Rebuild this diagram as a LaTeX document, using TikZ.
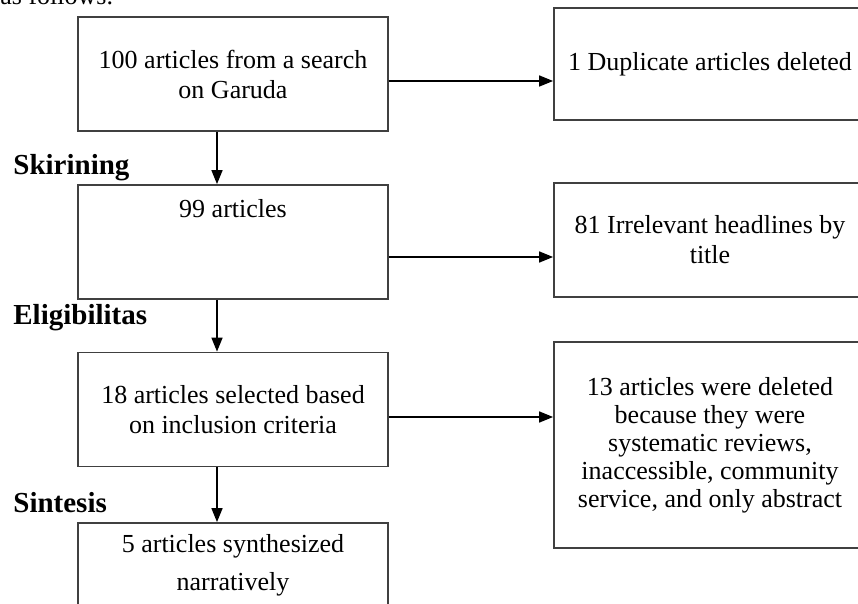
\documentclass[tikz,border=0pt]{standalone}
\usepackage{fontspec}
\setmainfont{Liberation Serif}
\usetikzlibrary{arrows.meta}

\begin{document}
\begin{tikzpicture}[x=0.5pt, y=-0.5pt, every node/.style={font=\fontsize{13}{15}\selectfont},
    box/.style={draw=black!75, line width=0.9pt, minimum width=155pt, minimum height=57pt, align=center, inner sep=0pt},
    stage/.style={anchor=base west, inner sep=0pt, font=\fontsize{14.5}{16}\selectfont\bfseries},
    flow/.style={-{Triangle[length=7pt,width=5.5pt]}, line width=0.8pt}]

    % Frame of the cut-out
    \useasboundingbox (0,0) rectangle (858,604);
    \clip (0,0) rectangle (858,604);

    % Text cut off above the chart
    \node[anchor=base west, inner sep=0pt] (intro) at (0,5) {as follows.};

    % Main column
    \node[box] (search) at (233,74) {100 articles from a search\\on Garuda};
    \node[box, label={[anchor=north, inner sep=0pt, yshift=-7.5pt]north:99 articles}] (screen) at (233,242) {};
    \node[box] (eligible) at (233,409.5) {18 articles selected based\\on inclusion criteria};
    \node[box, label={[anchor=north, inner sep=0pt, yshift=-6pt, align=center, font=\fontsize{13}{19}\selectfont]north:5 articles synthesized\\narratively}] (synth) at (233,580) {};

    % Excluded records
    \node[box, minimum width=156pt, minimum height=56pt] (dup) at (710,64) {1 Duplicate articles deleted};
    \node[box, minimum width=156pt] (irrelevant) at (710,240) {81 Irrelevant headlines by\\title};
    \node[box, minimum width=156pt, minimum height=103pt, font=\fontsize{13}{14}\selectfont] (excluded) at (710,445)
        {13 articles were deleted\\because they were\\systematic reviews,\\inaccessible, community\\service, and only abstract};

    % Stage labels
    \node[stage] (skrLbl) at (13,175) {Skirining};
    \node[stage] (eligLbl) at (13,325) {Eligibilitas};
    \node[stage] (sinLbl) at (13,513) {Sintesis};

    % Downward flow
    \coordinate (spine) at (217,0);
    \draw[flow] (search.south -| spine) -- (screen.north -| spine);
    \draw[flow] (screen.south -| spine) -- (eligible.north -| spine);
    \draw[flow] (eligible.south -| spine) -- (synth.north -| spine);

    % Side flow
    \coordinate (dupY) at (0,81);
    \coordinate (irrY) at (0,257);
    \coordinate (excY) at (0,417);
    \draw[flow] (search.east |- dupY) -- (dup.west |- dupY);
    \draw[flow] (screen.east |- irrY) -- (irrelevant.west |- irrY);
    \draw[flow] (eligible.east |- excY) -- (excluded.west |- excY);

\end{tikzpicture}
\end{document}
